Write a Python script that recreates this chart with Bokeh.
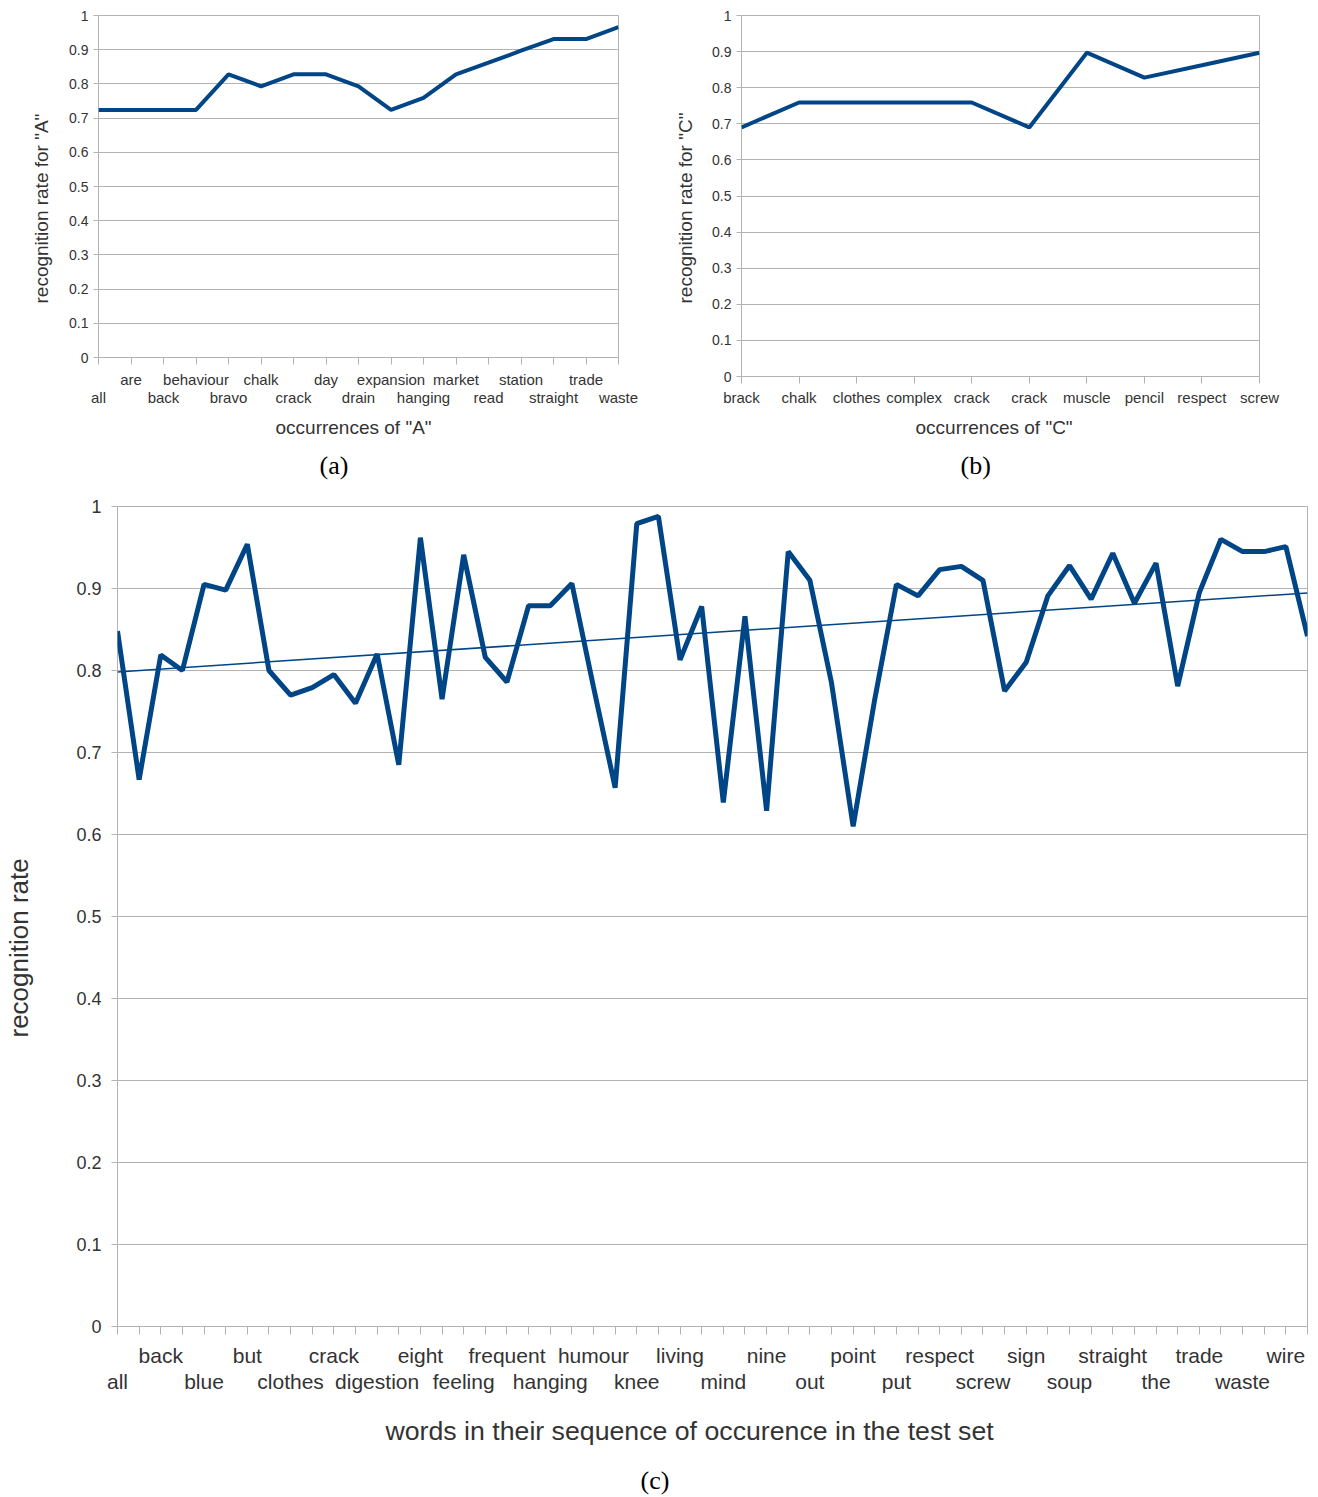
import numpy as np
from bokeh.plotting import figure
from bokeh.models import FixedTicker, NumeralTickFormatter, LinearAxis, Range1d, Title
from bokeh.layouts import column, row
from bokeh.embed import file_html
from bokeh.resources import INLINE

# ---------------- data ----------------
a_words = ["all", "are", "back", "behaviour", "bravo", "chalk", "crack", "day", "drain",
           "expansion", "hanging", "market", "read", "station", "straight", "trade", "waste"]
a_rate = [0.724, 0.724, 0.724, 0.724, 0.828, 0.793, 0.828, 0.828, 0.793,
          0.724, 0.759, 0.828, 0.862, 0.897, 0.931, 0.931, 0.966]

b_words = ["brack", "chalk", "clothes", "complex", "crack", "crack", "muscle", "pencil", "respect", "screw"]
b_rate = [0.690, 0.759, 0.759, 0.759, 0.759, 0.690, 0.897, 0.828, 0.862, 0.897]

# labels shown on every second word of chart (c)
c_labels = ["all", "back", "blue", "but", "clothes", "crack", "digestion", "eight", "feeling",
            "frequent", "hanging", "humour", "knee", "living", "mind", "nine", "out", "point",
            "put", "respect", "screw", "sign", "soup", "straight", "the", "trade", "waste", "wire"]
c_rate = [0.848, 0.667, 0.819, 0.800, 0.905, 0.898, 0.954, 0.800, 0.770, 0.779,
          0.795, 0.760, 0.820, 0.685, 0.962, 0.765, 0.941, 0.816, 0.786, 0.879,
          0.879, 0.906, 0.780, 0.657, 0.979, 0.988, 0.813, 0.878, 0.639, 0.866,
          0.629, 0.945, 0.910, 0.785, 0.610, 0.765, 0.905, 0.891, 0.923, 0.927,
          0.910, 0.775, 0.810, 0.891, 0.928, 0.887, 0.943, 0.882, 0.931, 0.781,
          0.895, 0.960, 0.945, 0.945, 0.951, 0.842]

y_ticks = [0.0, 0.1, 0.2, 0.3, 0.4, 0.5, 0.6, 0.7, 0.8, 0.9, 1.0]

BLUE = "#004586"
GRID = "#b3b3b3"
TXT = "#333333"
FONT = "Liberation Sans"
SERIF = "Liberation Serif"


def base_fig(w, h, n, bl, br, bt, bb):
    p = figure(width=w, height=h, x_range=Range1d(0, n - 1), y_range=Range1d(0, 1),
               output_backend="svg", toolbar_location=None,
               min_border_left=bl, min_border_right=br, min_border_top=bt, min_border_bottom=bb)
    p.outline_line_color = GRID
    p.xgrid.visible = False
    p.ygrid.ticker = FixedTicker(ticks=y_ticks)
    p.ygrid.grid_line_color = GRID
    p.background_fill_color = "white"
    p.border_fill_color = "white"
    return p


def title(p, side, text, font, size, color, standoff, offset):
    t = Title(text=text, align="left", vertical_align="bottom", offset=offset,
              standoff=standoff, text_font=font, text_font_size=size,
              text_font_style="normal", text_color=color)
    p.add_layout(t, side)


def style_y(p, lab_size, tick_out, standoff, spacer=None):
    ax = p.yaxis[0]
    ax.ticker = FixedTicker(ticks=y_ticks)
    ax.formatter = NumeralTickFormatter(format="0.[0]")
    ax.axis_line_color = None
    ax.major_tick_line_color = GRID
    ax.major_tick_out = tick_out
    ax.major_tick_in = 0
    ax.minor_tick_line_color = None
    ax.major_label_text_font = FONT
    ax.major_label_text_font_size = lab_size
    ax.major_label_text_color = TXT
    ax.major_label_standoff = standoff
    if spacer is not None:
        ax.axis_label = " "
        ax.axis_label_text_font_size = "10px"
        ax.axis_label_standoff = spacer


def style_x(p, n, upper, lower, lab_size, tick_out, s1, s2):
    ax1 = p.xaxis[0]
    ax1.ticker = FixedTicker(ticks=list(range(n)))
    ax1.major_label_overrides = {i: upper.get(i, "") for i in range(n)}
    ax1.axis_line_color = None
    ax1.major_tick_line_color = GRID
    ax1.major_tick_out = tick_out
    ax1.major_tick_in = 0
    ax1.minor_tick_line_color = None
    ax1.major_label_text_font = FONT
    ax1.major_label_text_font_size = lab_size
    ax1.major_label_text_color = TXT
    ax1.major_label_standoff = s1
    if lower:
        ax2 = LinearAxis(ticker=FixedTicker(ticks=sorted(lower)),
                         major_label_overrides=dict(lower))
        ax2.axis_line_color = None
        ax2.major_tick_line_color = None
        ax2.major_tick_out = 0
        ax2.major_tick_in = 0
        ax2.minor_tick_line_color = None
        ax2.major_label_text_font = FONT
        ax2.major_label_text_font_size = lab_size
        ax2.major_label_text_color = TXT
        ax2.major_label_standoff = s2
        p.add_layout(ax2, "below")


# ---------------- chart (a) ----------------
na = len(a_words)
xa = list(range(na))
pa = base_fig(648, 487, na, 98, 30, 15, 130)
pa.line(xa, a_rate, line_width=4, line_color=BLUE)
style_y(pa, "14px", 5, 5)
title(pa, "left", 'recognition rate for "A"', FONT, "19px", TXT, 29, 54)
style_x(pa, na,
        {i: w for i, w in enumerate(a_words) if i % 2 == 1},
        {i: w for i, w in enumerate(a_words) if i % 2 == 0},
        "15px", 7, 6, -2)
title(pa, "below", 'occurrences of "A"', FONT, "19px", TXT, 12, 177)
title(pa, "below", "(a)", SERIF, "26px", "black", 11, 221)

# ---------------- chart (b) ----------------
nb = len(b_words)
xb = list(range(nb))
pb = base_fig(670, 487, nb, 93, 59, 15, 111)
pb.line(xb, b_rate, line_width=4, line_color=BLUE)
style_y(pb, "14px", 5, 5)
title(pb, "left", 'recognition rate for "C"', FONT, "19px", TXT, 27, 73)
style_x(pb, nb, {i: w for i, w in enumerate(b_words)}, {}, "15px", 7, 5, 0)
title(pb, "below", 'occurrences of "C"', FONT, "19px", TXT, 12, 174)
title(pb, "below", "(b)", SERIF, "26px", "black", 11, 219)

# ---------------- chart (c) ----------------
nc = len(c_rate)
xc = list(range(nc))
pc = base_fig(1318, 1010, nc, 117, 11, 19, 171)
pc.line(xc, c_rate, line_width=5, line_color=BLUE)
slope, icpt = np.polyfit(xc, c_rate, 1)
pc.line([xc[0], xc[-1]], [icpt + slope * xc[0], icpt + slope * xc[-1]],
        line_width=1.5, line_color=BLUE)
style_y(pc, "18px", 6, 10, spacer=26)
title(pc, "left", "recognition rate", FONT, "26px", TXT, 0, 289)
upper_c = {2 * k: w for k, w in enumerate(c_labels) if k % 2 == 1}
lower_c = {2 * k: w for k, w in enumerate(c_labels) if k % 2 == 0}
style_x(pc, nc, upper_c, lower_c, "21px", 8, 9, 0)
title(pc, "below", "words in their sequence of occurence in the test set",
      FONT, "26.7px", TXT, 36, 268)
title(pc, "below", "(c)", SERIF, "26px", "black", 0, 523)

layout = column(row(column(pa), column(pb)), pc)
open("out.html", "w").write(file_html(layout, INLINE))
